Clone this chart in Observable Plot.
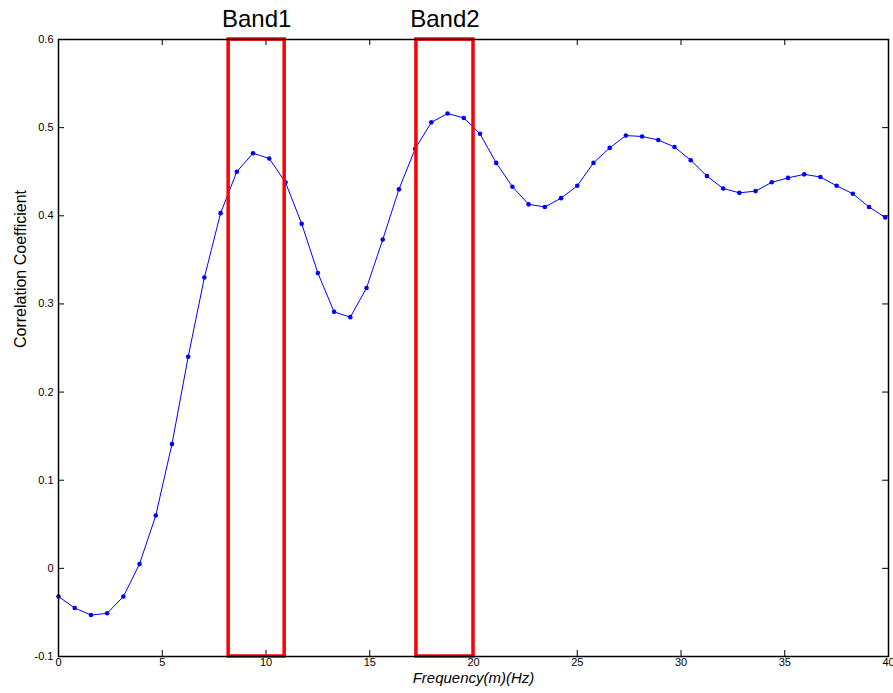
<!DOCTYPE html>
<html>
<head>
<meta charset="utf-8">
<script src="https://cdn.jsdelivr.net/npm/d3@7"></script>
<script src="https://cdn.jsdelivr.net/npm/@observablehq/plot@0.6"></script>
<style>
  html, body { margin: 0; padding: 0; background: #fff; }
  #chart { width: 893px; height: 693px; }
</style>
</head>
<body>
<div id="chart"></div>
<script>
// Frequency step 0.78125 Hz, 52 samples
const freqStep = 0.78125;
const corr = [
  -0.032, -0.045, -0.053, -0.051, -0.032, 0.005, 0.060, 0.141, 0.240, 0.330,
   0.403,  0.450,  0.471,  0.465,  0.438, 0.391, 0.335, 0.291, 0.285, 0.318,
   0.373,  0.430,  0.476,  0.506,  0.516, 0.511, 0.493, 0.460, 0.433, 0.413,
   0.410,  0.420,  0.434,  0.460,  0.477, 0.491, 0.490, 0.486, 0.478, 0.463,
   0.445,  0.431,  0.426,  0.428,  0.438, 0.443, 0.447, 0.444, 0.434, 0.425,
   0.410,  0.398
];
const bandNames = ["Band1", "Band2"];
const bandStart = [8.2, 17.25];
const bandEnd = [10.9, 20.0];
const xTicks = [0, 5, 10, 15, 20, 25, 30, 35, 40];
const yTicks = [-0.1, 0, 0.1, 0.2, 0.3, 0.4, 0.5, 0.6];
const xLabel = "Frequency(m)(Hz)";
const yLabel = "Correlation Coefficient";

const data = corr.map((v, i) => ({f: i * freqStep, v}));
const bands = bandNames.map((name, i) => ({name, x1: bandStart[i], x2: bandEnd[i]}));

const W = 893, H = 693;
const mL = 58, mR = 5, mT = 39, mB = 37;
const innerW = W - mL - mR, innerH = H - mT - mB;
const T = 6; // tick length (inward)

const chart = Plot.plot({
  width: W,
  height: H,
  marginLeft: mL,
  marginRight: mR,
  marginTop: mT,
  marginBottom: mB,
  style: {fontFamily: "'Liberation Sans', Arial, Helvetica, sans-serif", background: "#fff", color: "#000"},
  x: {domain: [0, 40]},
  y: {domain: [-0.1, 0.6]},
  marks: [
    // inward ticks on all four sides
    Plot.tickX(xTicks, {x: d => d, stroke: "#000", strokeWidth: 1, insetTop: innerH - T}),
    Plot.tickX(xTicks, {x: d => d, stroke: "#000", strokeWidth: 1, insetBottom: innerH - T}),
    Plot.tickY(yTicks, {y: d => d, stroke: "#000", strokeWidth: 1, insetRight: innerW - T}),
    Plot.tickY(yTicks, {y: d => d, stroke: "#000", strokeWidth: 1, insetLeft: innerW - T}),
    Plot.axisX({ticks: xTicks, tickSize: 0, tickPadding: 2, fontSize: 11, tickFormat: d => String(d), label: null}),
    Plot.axisY({ticks: yTicks, tickSize: 0, tickPadding: 5, fontSize: 11, tickFormat: d => String(d), label: null}),
    Plot.line(data, {x: "f", y: "v", stroke: "#0000ff", strokeWidth: 1}),
    Plot.dot(data, {x: "f", y: "v", r: 2.3, fill: "#0000ff", stroke: "none"}),
    Plot.rect(bands, {x1: "x1", x2: "x2", fill: "none", stroke: "#ff0000", strokeWidth: 3.5}),
    Plot.text(bands, {x: d => (d.x1 + d.x2) / 2, frameAnchor: "top", text: "name", fontSize: 24, dy: -20, lineAnchor: "middle", fill: "#000"}),
    Plot.frame({stroke: "#000", strokeWidth: 1.5}),
    Plot.text([xLabel], {frameAnchor: "bottom", dy: 26, text: d => d, fontSize: 15, fontStyle: "italic", fill: "#000"}),
    Plot.text([yLabel], {frameAnchor: "left", dx: -38, rotate: -90, text: d => d, fontSize: 16, fill: "#000"})
  ]
});
document.getElementById("chart").appendChild(chart);
</script>
</body>
</html>
